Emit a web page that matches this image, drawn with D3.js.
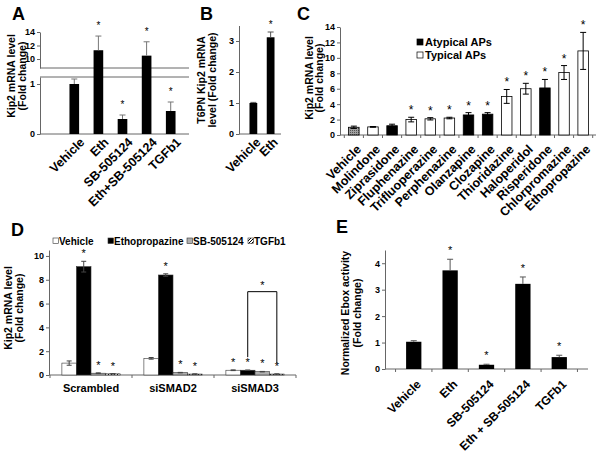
<!DOCTYPE html>
<html>
<head>
<meta charset="utf-8">
<script src="https://cdn.jsdelivr.net/npm/d3@7"></script>
<style>
  body { margin: 0; background: #fff; }
  text { font-family: "Liberation Sans", Arial, sans-serif; }
</style>
</head>
<body>
<script>
// ---- data ----
const aCategories = ["Vehicle", "Eth", "SB-505124", "Eth+SB-505124", "TGFb1"];
const aValues = [1.0, 11.3, 0.3, 10.5, 0.46];
const aErrors = [0.1, 2.1, 0.08, 2.05, 0.18];
const aStars = [false, true, true, true, true];
const aLowTicks = [0, 1];
const aHighTicks = [10, 12, 14];

const bCategories = ["Vehicle", "Eth"];
const bValues = [1.0, 3.12];
const bErrors = [0.02, 0.17];
const bStars = [false, true];
const bTicks = [0, 1, 2, 3];

const cCategories = ["Vehicle", "Molindone", "Ziprasidone", "Fluphenazine", "Trifluoperazine", "Perphenazine",
  "Olanzapine", "Clozapine", "Thioridazine", "Haloperidol", "Risperidone", "Chlorpromazine", "Ethopropazine"];
const cValues = [1.0, 1.05, 1.2, 2.0, 2.1, 2.2, 2.6, 2.7, 5.0, 6.0, 6.1, 8.1, 10.9];
const cErrors = [0.15, 0.05, 0.2, 0.3, 0.15, 0.1, 0.3, 0.2, 0.9, 0.7, 1.1, 0.9, 2.4];
const cTypes = ["vehicle", "typical", "atypical", "typical", "typical", "typical",
  "atypical", "atypical", "typical", "typical", "atypical", "typical", "typical"];
const cStars = [false, false, false, true, true, true, true, true, true, true, true, true, true];
const cTicks = [0, 2, 4, 6, 8, 10, 12, 14];
const cLegend = ["Atypical APs", "Typical APs"];

const dGroups = ["Scrambled", "siSMAD2", "siSMAD3"];
const dSeries = ["Vehicle", "Ethopropazine", "SB-505124", "TGFb1"];
const dValues = {
  Vehicle: [1.0, 1.4, 0.4],
  Ethopropazine: [9.1, 8.4, 0.4],
  "SB-505124": [0.15, 0.2, 0.28],
  TGFb1: [0.1, 0.08, 0.08]
};
const dErrors = {
  Vehicle: [0.18, 0.07, 0.03],
  Ethopropazine: [0.45, 0.1, 0.02],
  "SB-505124": [0.03, 0.02, 0.02],
  TGFb1: [0.01, 0.01, 0.01]
};
const dStars = {
  Vehicle: [false, false, true],
  Ethopropazine: [true, true, true],
  "SB-505124": [true, true, true],
  TGFb1: [true, true, true]
};
const dTicks = [0, 2, 4, 6, 8, 10];
const dBracket = { group: "siSMAD3", from: "Ethopropazine", to: "TGFb1", level: 7, leftEnd: 1.5, rightEnd: 1.0 };

const eCategories = ["Vehicle", "Eth", "SB-505124", "Eth + SB-505124", "TGFb1"];
const eValues = [1.03, 3.73, 0.16, 3.22, 0.45];
const eErrors = [0.04, 0.42, 0.02, 0.26, 0.07];
const eStars = [false, true, true, true, true];
const eTicks = [0, 1, 2, 3, 4];

// ---- setup ----
const svg = d3.select("body").append("svg").attr("width", 602).attr("height", 453);

const defs = svg.append("defs");
const hatch = defs.append("pattern").attr("id", "hatch").attr("patternUnits", "userSpaceOnUse")
  .attr("width", 3).attr("height", 3);
hatch.append("rect").attr("width", 3).attr("height", 3).attr("fill", "#fff");
hatch.append("path").attr("d", "M0,3 L3,0").attr("stroke", "#000").attr("stroke-width", 1);
const dots = defs.append("pattern").attr("id", "dots").attr("patternUnits", "userSpaceOnUse")
  .attr("width", 2).attr("height", 2);
dots.append("rect").attr("width", 2).attr("height", 2).attr("fill", "#a0a0a0");
dots.append("rect").attr("width", 1).attr("height", 1).attr("fill", "#555");

const AXIS = "#666";
const FONT_TICK = "9px";
const FONT_TITLE = "10.5px";

function panelLabel(text, x, y) {
  svg.append("text").attr("x", x).attr("y", y).attr("font-size", "18px").attr("font-weight", "bold").text(text);
}

function yTitle(lines, x, y, gap) {
  const t = svg.append("text").attr("transform", `translate(${x},${y}) rotate(-90)`)
    .attr("text-anchor", "middle").attr("font-size", FONT_TITLE).attr("font-weight", "bold");
  lines.forEach((l, i) => t.append("tspan").attr("x", 0).attr("dy", i === 0 ? 0 : gap || 11).text(l));
}

function yAxis(scale, ticks, x) {
  const g = svg.append("g").attr("transform", `translate(${x},0)`)
    .call(d3.axisLeft(scale).tickValues(ticks).tickFormat(d3.format("d")).tickSize(3).tickSizeOuter(0).tickPadding(2));
  g.select(".domain").attr("stroke", AXIS);
  g.selectAll(".tick line").attr("stroke", AXIS);
  g.selectAll(".tick text").attr("font-size", FONT_TICK).attr("font-weight", "bold")
    .attr("font-family", "Liberation Sans, Arial, sans-serif").attr("fill", "#000");
  return g;
}

function xLine(x1, x2, y) {
  svg.append("line").attr("x1", x1).attr("x2", x2).attr("y1", y).attr("y2", y).attr("stroke", AXIS);
}

function boundaryTicks(x, y0) {
  const off = (x.step() - x.bandwidth()) / 2;
  const bounds = x.domain().map((c) => x(c) - off);
  bounds.push(x(x.domain()[x.domain().length - 1]) + x.bandwidth() + off);
  svg.append("g").selectAll("line").data(bounds).join("line")
    .attr("x1", (d) => d).attr("x2", (d) => d).attr("y1", y0).attr("y2", y0 + 3).attr("stroke", AXIS);
}

function rotatedLabels(x, cats, y0, dx, dy, size) {
  svg.append("g").selectAll("text").data(cats).join("text")
    .attr("transform", (d) => `translate(${x(d) + x.bandwidth() / 2 + dx},${y0 + dy}) rotate(-45)`)
    .attr("text-anchor", "end").attr("font-size", size).attr("font-weight", "bold").text((d) => d);
}

function errorBars(g, xs, tops, bottoms, color, cap) {
  g.selectAll(null).data(xs).join("line")
    .attr("x1", (d) => d).attr("x2", (d) => d)
    .attr("y1", (d, i) => bottoms[i]).attr("y2", (d, i) => tops[i]).attr("stroke", color);
  g.selectAll(null).data(xs).join("line")
    .attr("x1", (d) => d - cap).attr("x2", (d) => d + cap)
    .attr("y1", (d, i) => tops[i]).attr("y2", (d, i) => tops[i]).attr("stroke", color);
}

function stars(xs, ys, show, size) {
  svg.append("g").selectAll("text").data(xs.filter((d, i) => show[i])).join("text")
    .attr("x", (d) => d).attr("y", (d, i) => ys.filter((e, j) => show[j])[i])
    .attr("text-anchor", "middle").attr("font-size", size || "11px").attr("fill", "#000").text("*");
}

// ---- panel A ----
function renderPanelA() {
  const left = 40, right = 189;
  const lowMax = 1.14;
  const low = d3.scaleLinear().domain([0, lowMax]).range([134, 77]);
  const high = d3.scaleLinear().domain([8.67, 14]).range([68, 32]);
  const yv = (v) => (v <= lowMax ? low(v) : high(v));
  const x = d3.scaleBand().domain(aCategories).range([55, 190]).padding(0.6);

  yAxis(low, aLowTicks, left);
  yAxis(high, aHighTicks, left);
  xLine(left, right, 134);
  xLine(left, right, 77);
  xLine(left, right, 68);

  svg.append("g").selectAll("rect").data(aValues).join("rect")
    .attr("x", (d, i) => x(aCategories[i])).attr("width", x.bandwidth())
    .attr("y", (d) => yv(d)).attr("height", (d) => low(0) - yv(d)).attr("fill", "#000");

  const xs = aCategories.map((c) => x(c) + x.bandwidth() / 2);
  const tops = aValues.map((v, i) => yv(v + aErrors[i]));
  errorBars(svg.append("g"), xs, tops, aValues.map((v) => yv(v)), "#777", 3);
  stars(xs, tops.map((t) => t - 7), aStars, "10px");
  rotatedLabels(x, aCategories, 134, 11, 9, "12.5px");

  panelLabel("A", 12, 20);
  yTitle(["Kip2 mRNA level", "(Fold change)"], 15, 76);
}

// ---- panel B ----
function renderPanelB() {
  const y = d3.scaleLinear().domain([0, 3.5]).range([134, 25.5]);
  const x = d3.scaleBand().domain(bCategories).range([240, 284]).padding(0.55);
  yAxis(y, bTicks, 239);
  xLine(239, 281, 134);

  svg.append("g").selectAll("rect").data(bValues).join("rect")
    .attr("x", (d, i) => x(bCategories[i])).attr("width", x.bandwidth())
    .attr("y", (d) => y(d)).attr("height", (d) => y(0) - y(d)).attr("fill", "#000");
  const xs = bCategories.map((c) => x(c) + x.bandwidth() / 2);
  const tops = bValues.map((v, i) => y(v + bErrors[i]));
  errorBars(svg.append("g"), xs, tops, bValues.map((v) => y(v)), "#555", 3);
  stars(xs, tops.map((t) => t - 4), bStars, "10px");
  rotatedLabels(x, bCategories, 134, 8, 9, "12.5px");

  panelLabel("B", 200, 20);
  yTitle(["T6PN Kip2 mRNA", "level (Fold change)"], 205, 80);
}

// ---- panel C ----
function renderPanelC() {
  const y = d3.scaleLinear().domain([0, 14]).range([135, 27]);
  const x = d3.scaleBand().domain(cCategories).range([340, 597]).padding(0.45);
  yAxis(y, cTicks, 340);
  xLine(340, 596, 135);
  boundaryTicks(x, 135);

  const fill = { vehicle: "url(#dots)", typical: "#fff", atypical: "#000" };
  svg.append("g").selectAll("rect").data(cValues).join("rect")
    .attr("x", (d, i) => x(cCategories[i])).attr("width", x.bandwidth())
    .attr("y", (d) => y(d)).attr("height", (d) => y(0) - y(d))
    .attr("fill", (d, i) => fill[cTypes[i]]).attr("stroke", "#000").attr("stroke-width", 0.8);

  const xs = cCategories.map((c) => x(c) + x.bandwidth() / 2);
  const tops = cValues.map((v, i) => y(v + cErrors[i]));
  const bottoms = cValues.map((v, i) => y(v - cErrors[i]));
  const g = svg.append("g");
  errorBars(g, xs, tops, bottoms, "#000", 3);
  errorBars(g, xs, bottoms, bottoms, "#000", 3);
  stars(xs, tops.map((t) => t - 3), cStars, "12px");
  rotatedLabels(x, cCategories, 135, 8, 15, "12.5px");

  const leg = svg.append("g");
  leg.selectAll("rect").data(cLegend).join("rect")
    .attr("x", 417).attr("y", (d, i) => 39 + i * 13).attr("width", 6).attr("height", 6)
    .attr("fill", (d, i) => (i === 0 ? "#000" : "#fff")).attr("stroke", "#000").attr("stroke-width", 0.7);
  leg.selectAll("text").data(cLegend).join("text")
    .attr("x", 425).attr("y", (d, i) => 46 + i * 13).attr("font-size", "11px").attr("font-weight", "bold").text((d) => d);

  panelLabel("C", 297, 20);
  yTitle(["Kip2 mRNA level", "(Fold change)"], 313, 78, 10);
}

// ---- panel D ----
function renderPanelD() {
  const y = d3.scaleLinear().domain([0, 10.5]).range([375, 250]);
  const x0 = d3.scaleBand().domain(dGroups).range([50, 296]).paddingInner(0.29).paddingOuter(0.145);
  const x1 = d3.scaleBand().domain(dSeries).range([0, x0.bandwidth()]);
  yAxis(y, dTicks, 49);
  xLine(49, 296, 375);
  boundaryTicks(x0, 375);

  const fill = { Vehicle: "#fff", Ethopropazine: "#000", "SB-505124": "#b0b0b0", TGFb1: "url(#hatch)" };
  const g = svg.append("g");
  dSeries.forEach((s) => {
    const xs = dGroups.map((grp) => x0(grp) + x1(s));
    g.selectAll(null).data(dValues[s]).join("rect")
      .attr("x", (d, i) => xs[i]).attr("width", x1.bandwidth())
      .attr("y", (d) => y(d)).attr("height", (d) => y(0) - y(d))
      .attr("fill", fill[s]).attr("stroke", "#333").attr("stroke-width", 0.6);
    const cx = xs.map((v) => v + x1.bandwidth() / 2);
    const tops = dValues[s].map((v, i) => y(v + dErrors[s][i]));
    const bottoms = dValues[s].map((v, i) => y(v - dErrors[s][i]));
    const eg = svg.append("g");
    errorBars(eg, cx, tops, bottoms, "#444", 2.5);
    errorBars(eg, cx, bottoms, bottoms, "#444", 2.5);
    stars(cx, tops.map((t) => t - 4), dStars[s], "11px");
  });

  // bracket
  const bx1 = x0(dBracket.group) + x1(dBracket.from) + x1.bandwidth() / 2;
  const bx2 = x0(dBracket.group) + x1(dBracket.to) + x1.bandwidth() / 2;
  svg.append("path")
    .attr("d", `M${bx1},${y(dBracket.leftEnd)} V${y(dBracket.level)} H${bx2} V${y(dBracket.rightEnd)}`)
    .attr("fill", "none").attr("stroke", "#000").attr("stroke-width", 1);
  svg.append("text").attr("x", (bx1 + bx2) / 2).attr("y", y(dBracket.level) - 3)
    .attr("text-anchor", "middle").attr("font-size", "11px").text("*");

  svg.append("g").selectAll("text").data(dGroups).join("text")
    .attr("x", (d) => x0(d) + x0.bandwidth() / 2).attr("y", 392)
    .attr("text-anchor", "middle").attr("font-size", "11px").attr("font-weight", "bold").text((d) => d);

  // legend
  const legX = [53, 108, 187, 248];
  const leg = svg.append("g");
  leg.selectAll("rect").data(dSeries).join("rect")
    .attr("x", (d, i) => legX[i]).attr("y", 238).attr("width", 5.5).attr("height", 5.5)
    .attr("fill", (d) => fill[d]).attr("stroke", "#333").attr("stroke-width", 0.6);
  leg.selectAll("text").data(dSeries).join("text")
    .attr("x", (d, i) => legX[i] + 6).attr("y", 244.5).attr("font-size", "10px").attr("font-weight", "bold").text((d) => d);

  panelLabel("D", 11, 236);
  yTitle(["Kip2 mRNA level", "(Fold change)"], 12, 308);
}

// ---- panel E ----
function renderPanelE() {
  const y = d3.scaleLinear().domain([0, 4.5]).range([369, 250]);
  const x = d3.scaleBand().domain(eCategories).range([385, 588]).padding(0.58);
  yAxis(y, eTicks, 385);
  xLine(385, 588, 369);
  boundaryTicks(x, 369);

  svg.append("g").selectAll("rect").data(eValues).join("rect")
    .attr("x", (d, i) => x(eCategories[i])).attr("width", x.bandwidth())
    .attr("y", (d) => y(d)).attr("height", (d) => y(0) - y(d)).attr("fill", "#000");
  const xs = eCategories.map((c) => x(c) + x.bandwidth() / 2);
  const tops = eValues.map((v, i) => y(v + eErrors[i]));
  errorBars(svg.append("g"), xs, tops, eValues.map((v) => y(v)), "#555", 3);
  stars(xs, tops.map((t) => t - 5), eStars, "11px");
  rotatedLabels(x, eCategories, 369, 8, 16, "12px");

  panelLabel("E", 336, 233);
  yTitle(["Normalized Ebox activity", "(Fold change)"], 349, 313, 12);
}

renderPanelA();
renderPanelB();
renderPanelC();
renderPanelD();
renderPanelE();
</script>
</body>
</html>
